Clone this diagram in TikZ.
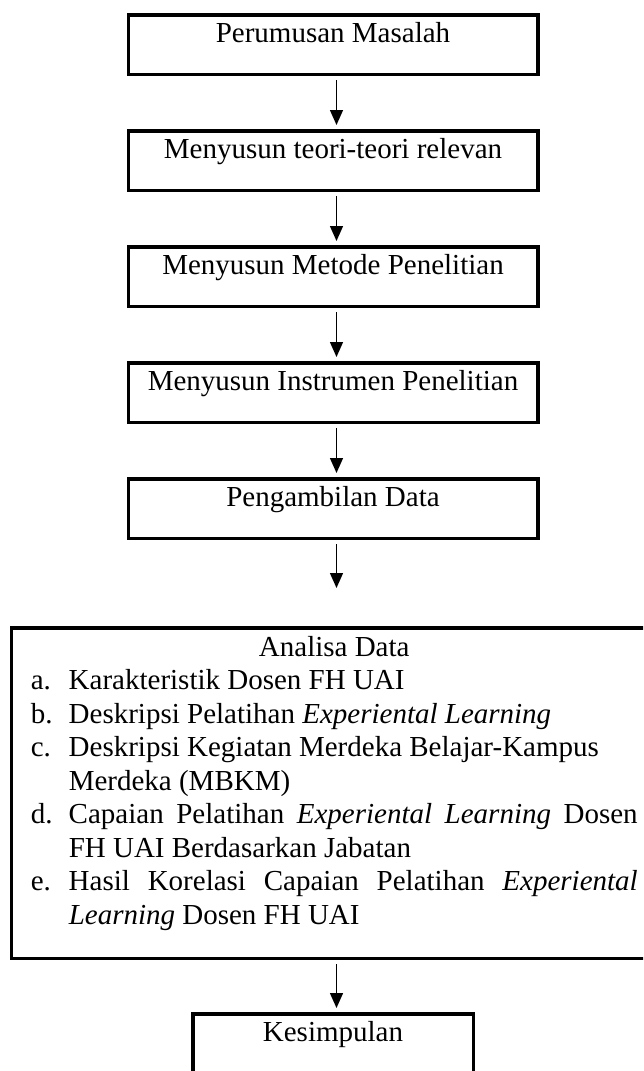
\documentclass[tikz,border=0pt]{standalone}
\usepackage{fontspec}
\setmainfont{Liberation Serif}
\usetikzlibrary{arrows.meta,positioning}

\newcommand{\listitem}[2]{\par\noindent\hangindent=38pt\hangafter=1\makebox[38pt][l]{#1}#2}

\begin{document}
\begin{tikzpicture}[x=1pt, y=1pt, font=\fontsize{29}{33.5}\selectfont]
    \tikzset{stepbox/.style={draw, line width=3.5pt, minimum width=409.5pt, inner ysep=0pt, text height=27.25pt, text depth=32.25pt}}
    \tikzset{flow/.style={-{Triangle[length=15pt, width=13pt]}, line width=1.4pt, shorten <=4pt, shorten >=4pt}}
    \path[use as bounding box, clip] (0,0) rectangle (643,-1071);
    \node[stepbox, anchor=north] (masalah) at (333,-13) {Perumusan Masalah};
    \node[stepbox, below=53pt of masalah] (teori) {Menyusun teori-teori relevan};
    \node[stepbox, below=53pt of teori] (metode) {Menyusun Metode Penelitian};
    \node[stepbox, below=53pt of metode] (instrumen) {Menyusun Instrumen Penelitian};
    \node[stepbox, below=53pt of instrumen] (data) {Pengambilan Data};
    \node[draw, line width=3.5pt, text width=607pt, align=justify, inner xsep=19.25pt, inner ysep=0pt, below=86pt of data, xshift=1.25pt] (analisa) {\hyphenpenalty=10000
        {\centering\rule{0pt}{28.25pt}Analisa Data\par}
        \listitem{a.}{Karakteristik Dosen FH UAI}
        \listitem{b.}{Deskripsi Pelatihan \textit{Experiental Learning}}
        \listitem{c.}{Deskripsi Kegiatan Merdeka Belajar-Kampus\hfill\break Merdeka (MBKM)}
        \listitem{d.}{Capaian Pelatihan \textit{Experiental Learning} Dosen FH UAI Berdasarkan Jabatan}
        \listitem{e.}{Hasil Korelasi Capaian Pelatihan \textit{Experiental Learning} Dosen FH UAI\rule[-34.25pt]{0pt}{34.25pt}\par}};
    \node[stepbox, minimum width=280.5pt, below=52pt of analisa, xshift=-1.25pt] (simpulan) {Kesimpulan};
    \draw[flow] ([xshift=3.5pt]masalah.south) -- ([xshift=3.5pt]teori.north);
    \draw[flow] ([xshift=3.5pt]teori.south) -- ([xshift=3.5pt]metode.north);
    \draw[flow] ([xshift=3.5pt]metode.south) -- ([xshift=3.5pt]instrumen.north);
    \draw[flow] ([xshift=3.5pt]instrumen.south) -- ([xshift=3.5pt]data.north);
    \draw[flow, shorten >=38pt] ([xshift=3.5pt]data.south) -- ([xshift=2.25pt]analisa.north);
    \draw[flow] ([xshift=2.25pt]analisa.south) -- ([xshift=3.5pt]simpulan.north);
\end{tikzpicture}
\end{document}
